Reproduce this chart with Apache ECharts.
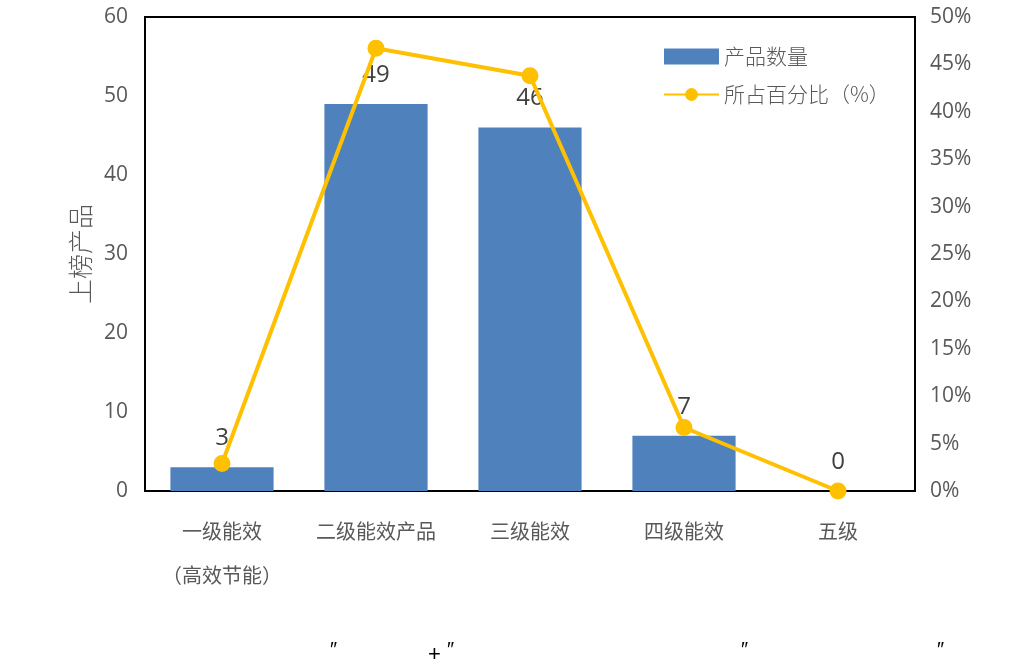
<!DOCTYPE html>
<html>
<head>
<meta charset="utf-8">
<script src="https://cdn.jsdelivr.net/npm/echarts@6/dist/echarts.min.js"></script>
<style>html,body{margin:0;padding:0;background:#fff}#c{width:1025px;height:670px}</style>
</head>
<body>
<div id="c"></div>
<script>
const categories = ['一级能效\n（高效节能）', '二级能效产品', '三级能效', '四级能效', '五级'];
const productCounts = [3, 49, 46, 7, 0];
const percentShares = [2.9, 46.7, 43.8, 6.7, 0];
const leftTicks = { min: 0, max: 60, interval: 10 };
const rightTicks = { min: 0, max: 50, interval: 5 };

const chart = echarts.init(document.getElementById('c'));
const font = '"Noto Sans CJK SC", "Open Sans", sans-serif';
chart.setOption({
  backgroundColor: '#fff',
  textStyle: { fontFamily: font },
  grid: { left: 145, right: 110, top: 17, bottom: 179, show: true, borderColor: '#000', borderWidth: 2 },
  legend: {
    orient: 'vertical', left: 658, top: 41, itemGap: 17, itemWidth: 55, itemHeight: 16,
    textStyle: { fontSize: 21, color: '#595959', fontFamily: font, fontWeight: 300 },
    data: [{ name: '产品数量', icon: 'rect' }, { name: '所占百分比（%）' }]
  },
  xAxis: {
    type: 'category', data: categories,
    axisLine: { show: true, lineStyle: { color: '#000', width: 2 } },
    axisTick: { show: false },
    axisLabel: { fontSize: 20, color: '#595959', margin: 18, interval: 0, lineHeight: 44 }
  },
  yAxis: [
    {
      type: 'value', min: leftTicks.min, max: leftTicks.max, interval: leftTicks.interval,
      name: '上榜产品', nameLocation: 'middle', nameRotate: 90, nameGap: 47,
      nameTextStyle: { fontSize: 25, color: '#595959', fontWeight: 300 },
      axisLine: { show: true, lineStyle: { color: '#000', width: 2 } },
      axisTick: { show: false }, splitLine: { show: false },
      axisLabel: { fontSize: 21, color: '#595959', margin: 17, fontFamily: '"Open Sans", sans-serif' }
    },
    {
      type: 'value', min: rightTicks.min, max: rightTicks.max, interval: rightTicks.interval,
      axisLine: { show: true, lineStyle: { color: '#000', width: 2 } },
      axisTick: { show: false }, splitLine: { show: false },
      axisLabel: { fontSize: 21, color: '#595959', margin: 15, formatter: '{value}%', fontFamily: '"Open Sans", sans-serif' }
    }
  ],
  series: [
    {
      name: '产品数量', type: 'bar', data: productCounts, barWidth: '67%',
      itemStyle: { color: '#4F81BD' },
      label: { show: true, position: 'top', distance: 17, fontSize: 24, color: '#404040', fontFamily: '"Open Sans", sans-serif' },
      z: 2
    },
    {
      name: '所占百分比（%）', type: 'line', yAxisIndex: 1, data: percentShares,
      symbol: 'circle', symbolSize: 17,
      lineStyle: { color: '#FFC000', width: 4 },
      itemStyle: { color: '#FFC000' },
      z: 3
    }
  ],
  graphic: [
    { type: 'text', left: 330, top: 640, style: { text: '″', fontSize: 20, fill: '#000' } },
    { type: 'text', left: 428, top: 644, style: { text: '+', fontSize: 22, fill: '#000' } },
    { type: 'text', left: 447, top: 640, style: { text: '″', fontSize: 20, fill: '#000' } },
    { type: 'text', left: 741, top: 640, style: { text: '″', fontSize: 20, fill: '#000' } },
    { type: 'text', left: 937, top: 640, style: { text: '″', fontSize: 20, fill: '#000' } }
  ]
});
</script>
</body>
</html>
